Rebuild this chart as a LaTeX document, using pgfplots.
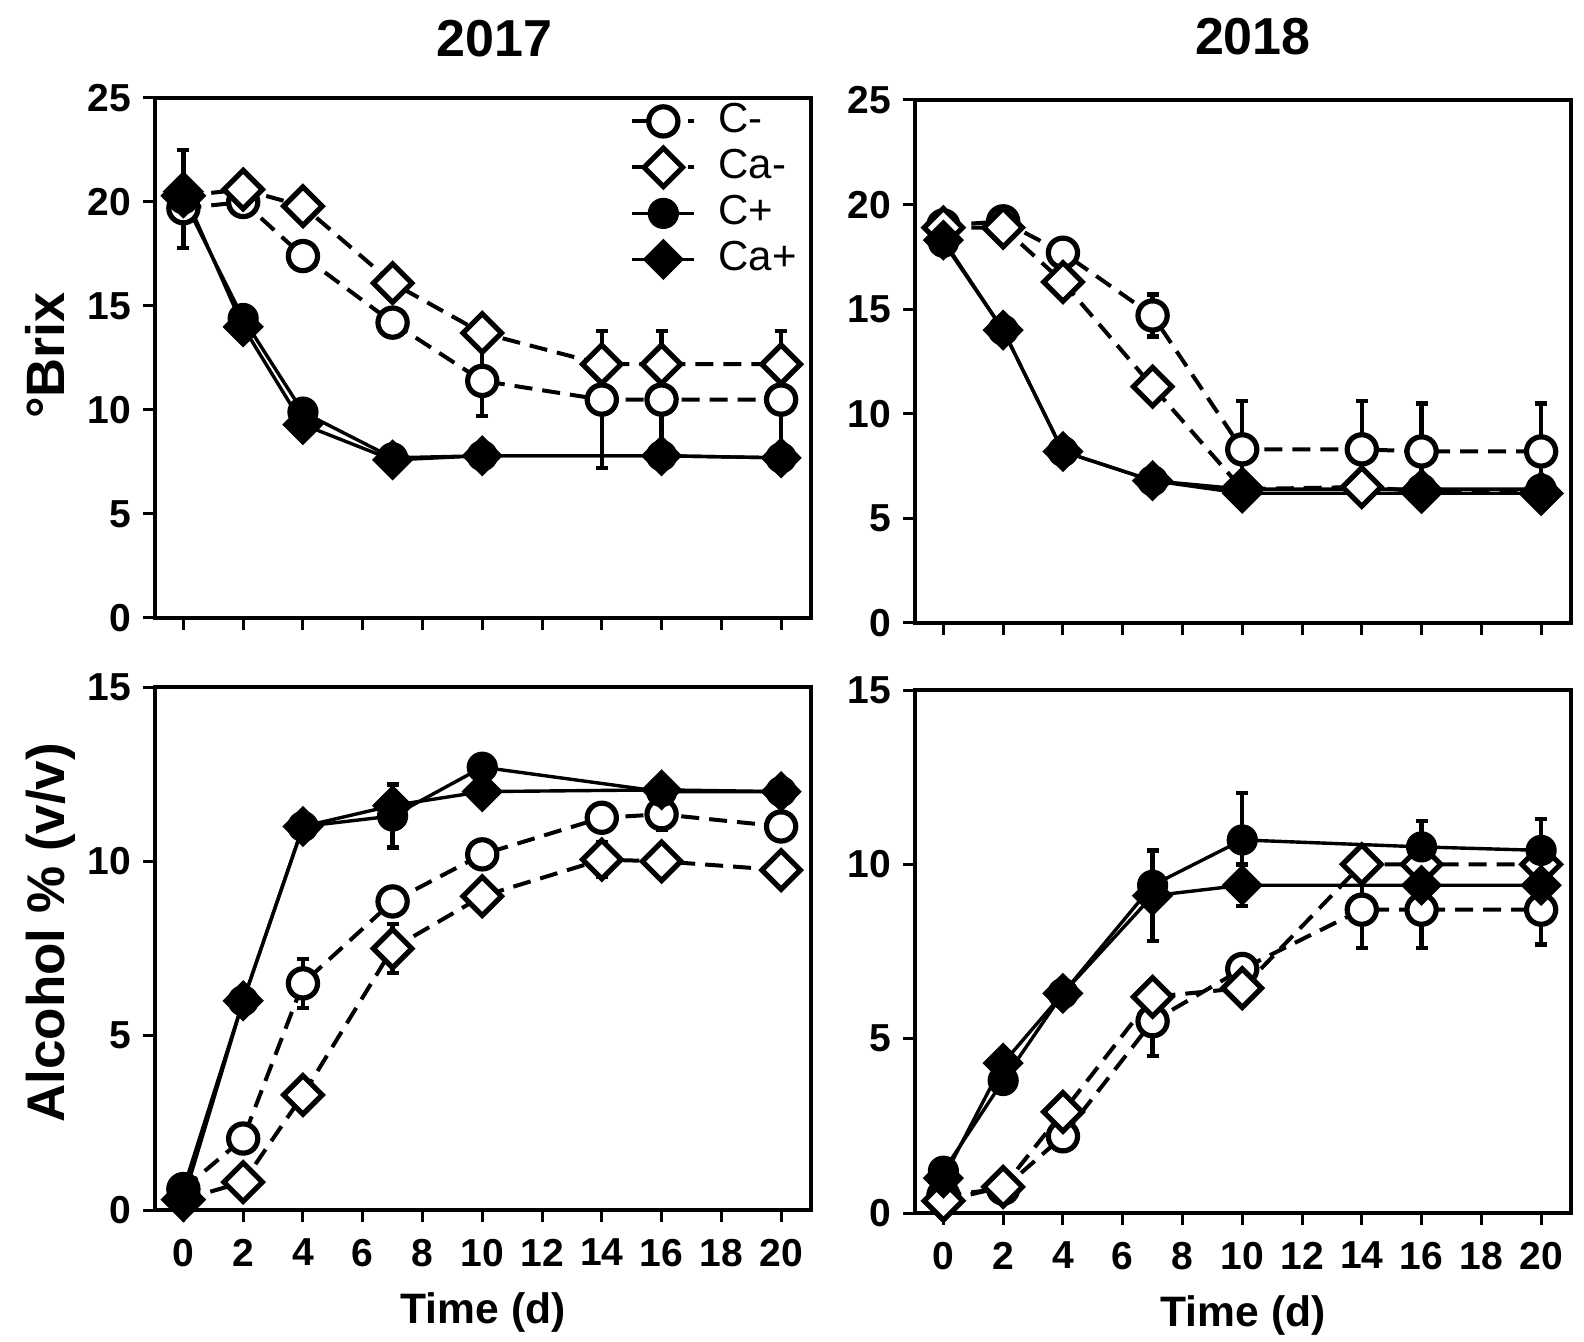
\documentclass[border=0pt]{standalone}
\usepackage{fontspec}
\setmainfont{Liberation Sans}
\usepackage{pgfplots}
\pgfplotsset{compat=1.18}

\pgfplotsset{
  panel/.style={
    scale only axis, width=328pt,
    xmin=-0.95, xmax=21,
    xtick={0,2,...,20},
    tick align=outside, tick pos=left,
    major tick length=6pt,
    every tick/.style={black, line width=1.5pt},
    axis line style={line width=1.8pt},
    ticklabel style={font=\fontsize{19.5}{22}\selectfont\bfseries},
    xticklabel style={yshift=-5pt},
    yticklabel style={xshift=-2.5pt},
    /pgf/number format/assume math mode=true,
    clip=false,
    title style={font=\fontsize{26}{30}\selectfont\bfseries, anchor=center, yshift=0pt},
    label style={font=\fontsize{21.3}{25}\selectfont\bfseries},
    error bars/y dir=both, error bars/y explicit,
    error bars/error bar style={line width=2.2pt, solid},
    error bars/error mark options={rotate=90, mark size=3pt, line width=2.2pt, solid},
  },
  cm/.style={black, line width=2pt, dash pattern=on 9pt off 5pt, mark=*, mark size=7.3pt,
    mark options={solid, fill=white, line width=2.6pt}},
  cam/.style={black, line width=2pt, dash pattern=on 9pt off 5pt, mark=square*, mark size=6.8pt,
    mark options={solid, fill=white, rotate=45, line width=2.6pt}},
  cp/.style={black, line width=1.7pt, solid, mark=*, mark size=7.3pt,
    mark options={solid, fill=black, line width=1pt}},
  cap/.style={black, line width=1.7pt, solid, mark=square*, mark size=6.8pt,
    mark options={solid, fill=black, rotate=45, line width=1pt}},
}

\begin{document}
\begin{tikzpicture}
\path[use as bounding box] (0,0) rectangle (792pt,-671pt);

% ---------- 2017 Brix ----------
\begin{axis}[panel, height=260pt, at={(77.5pt,-49pt)}, anchor=north west,
  ymin=0, ymax=25, ytick={0,5,...,25}, xticklabels={},
  title={2017}, title style={at={(axis description cs:0.518,1.092)}},
  ylabel={°Brix}, ylabel style={at={(axis description cs:-0.168,0.505)}, anchor=center,
    font=\fontsize{27}{30}\selectfont\bfseries},
  legend style={at={(0.724,1)}, anchor=north west, draw=none, fill=none, inner sep=0pt,
    font=\fontsize{21}{23}\selectfont, row sep=0pt, column sep=9pt,
    nodes={text height=15pt, text depth=4pt, inner sep=2pt}},
  legend cell align=left,
  legend image code/.code={\draw[mark repeat=2, mark phase=2, #1] plot coordinates {(0pt,0pt) (15.5pt,0pt) (31pt,0pt)};},
]
\addplot[cm] table[x=t, y=v, y error=e] {
t v e
0 19.7 0
2 20.0 0
4 17.4 0
7 14.2 0
10 11.4 1.7
14 10.5 3.3
16 10.5 3.3
20 10.5 3.3
};
\addplot[cam] table[x=t, y=v, y error=e] {
t v e
0 20.3 0
2 20.6 0
4 19.8 0
7 16.1 0
10 13.7 0
14 12.2 0
16 12.2 0
20 12.2 0
};
\addplot[cp] table[x=t, y=v, y error=e] {
t v e
0 20.15 2.35
2 14.4 0
4 9.9 0
7 7.7 0
10 7.8 0
16 7.8 0
20 7.7 0
};
\addplot[cap] table[x=t, y=v, y error=e] {
t v e
0 20.5 0
2 14.0 0
4 9.3 0
7 7.6 0
10 7.8 0
16 7.8 0
20 7.7 0
};
\legend{C-,Ca-,C+,Ca+}
\end{axis}

% ---------- 2018 Brix ----------
\begin{axis}[panel, height=261.5pt, at={(457.5pt,-50pt)}, anchor=north west,
  ymin=0, ymax=25, ytick={0,5,...,25}, xticklabels={},
  title={2018}, title style={at={(axis description cs:0.515,1.098)}},
]
\addplot[cm] table[x=t, y=v, y error=e] {
t v e
0 19.0 0
2 19.2 0
4 17.7 0
7 14.7 1.0
10 8.3 2.3
14 8.3 2.3
16 8.2 2.3
20 8.2 2.3
};
\addplot[cam] table[x=t, y=v, y error=e] {
t v e
0 18.9 0
2 18.9 0
4 16.3 0
7 11.3 0
10 6.4 0
14 6.5 0
16 6.3 0
20 6.2 0
};
\addplot[cp] table[x=t, y=v, y error=e] {
t v e
0 18.2 0
2 14.0 0
4 8.2 0
7 6.8 0
10 6.4 0
16 6.4 0
20 6.4 0
};
\addplot[cap] table[x=t, y=v, y error=e] {
t v e
0 18.3 0
2 14.0 0
4 8.2 0
7 6.8 0
10 6.2 0
16 6.2 0
20 6.2 0
};
\end{axis}

% ---------- 2017 Alcohol ----------
\begin{axis}[panel, height=261.5pt, at={(77.5pt,-343.5pt)}, anchor=north west,
  ymin=0, ymax=15, ytick={0,5,10,15},
  xlabel={Time (d)}, xlabel style={at={(axis description cs:0.5,-0.195)}, anchor=center},
  ylabel={Alcohol \% (v/v)}, ylabel style={at={(axis description cs:-0.159,0.53)}, anchor=center,
    font=\fontsize{26.5}{30}\selectfont\bfseries},
]
\addplot[cm] table[x=t, y=v, y error=e] {
t v e
0 0.6 0
2 2.05 0
4 6.5 0.7
7 8.85 0
10 10.2 0
14 11.25 0
16 11.35 0.45
20 11.0 0
};
\addplot[cam] table[x=t, y=v, y error=e] {
t v e
0 0.3 0
2 0.8 0
4 3.3 0
7 7.5 0.7
10 9.0 0
14 10.05 0.5
16 10.0 0
20 9.75 0
};
\addplot[cp] table[x=t, y=v, y error=e] {
t v e
0 0.6 0
2 6.0 0
4 11.0 0
7 11.3 0.9
10 12.7 0
16 12.0 0
20 12.0 0
};
\addplot[cap] table[x=t, y=v, y error=e] {
t v e
0 0.3 0
2 6.0 0
4 11.0 0
7 11.6 0
10 12.0 0
16 12.05 0
20 12.0 0
};
\end{axis}

% ---------- 2018 Alcohol ----------
\begin{axis}[panel, height=261.5pt, at={(457.5pt,-345pt)}, anchor=north west,
  ymin=0, ymax=15, ytick={0,5,10,15},
  xlabel={Time (d)}, xlabel style={at={(axis description cs:0.5,-0.195)}, anchor=center},
]
\addplot[cm] table[x=t, y=v, y error=e] {
t v e
0 0.5 0
2 0.7 0
4 2.2 0
7 5.5 1.0
10 7.0 0
14 8.7 1.1
16 8.7 1.1
20 8.7 1.0
};
\addplot[cam] table[x=t, y=v, y error=e] {
t v e
0 0.35 0
2 0.75 0
4 2.9 0
7 6.2 0
10 6.45 0
14 10.0 0
16 10.0 0
20 10.0 0
};
\addplot[cp] table[x=t, y=v, y error=e] {
t v e
0 1.2 0
2 3.8 0
4 6.3 0
7 9.4 0
10 10.7 1.35
16 10.5 0.75
20 10.4 0.9
};
\addplot[cap] table[x=t, y=v, y error=e] {
t v e
0 1.0 0
2 4.3 0
4 6.3 0
7 9.1 1.3
10 9.4 0.6
16 9.4 0
20 9.4 0
};
\end{axis}
\end{tikzpicture}
\end{document}
